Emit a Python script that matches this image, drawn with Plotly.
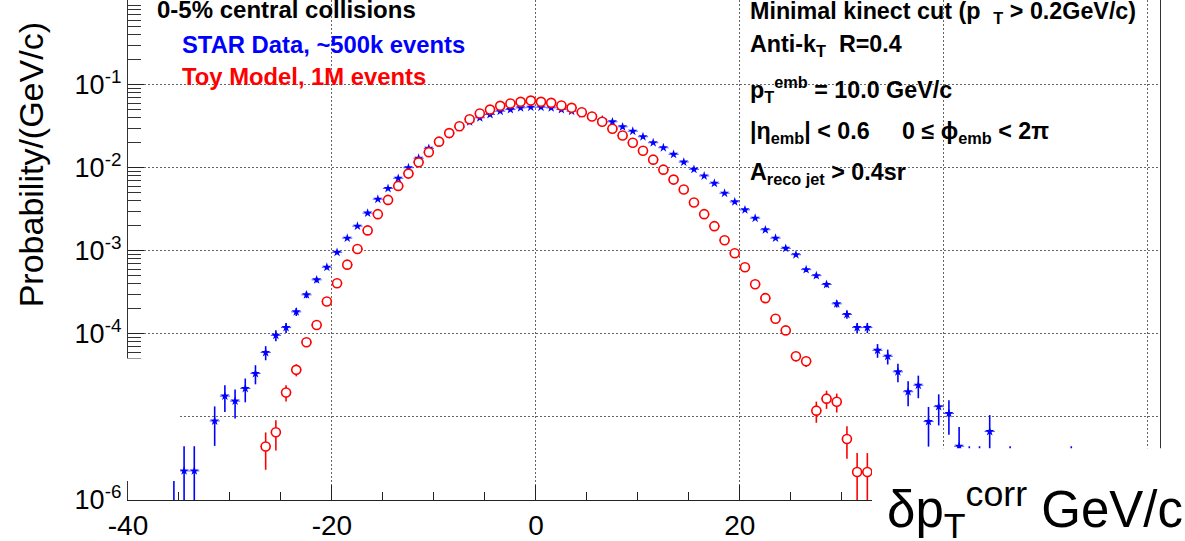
import plotly.graph_objects as go

# ---------------- data ----------------
toy_x = [-26.5, -25.5, -24.5, -23.5, -22.5, -21.5, -20.5, -19.5, -18.5, -17.5,
         -16.5, -15.5, -14.5, -13.5, -12.5, -11.5, -10.5, -9.5, -8.5, -7.5,
         -6.5, -5.5, -4.5, -3.5, -2.5, -1.5, -0.5, 0.5, 1.5, 2.5,
         3.5, 4.5, 5.5, 6.5, 7.5, 8.5, 9.5, 10.5, 11.5, 12.5,
         13.5, 14.5, 15.5, 16.5, 17.5, 18.5, 19.5, 20.5, 21.5, 22.5,
         23.5, 24.5, 25.5, 26.5, 27.5, 28.5, 29.5, 30.5, 31.5, 32.5]
toy_y = [4.41e-6, 6.53e-6, 1.97e-5, 3.69e-5, 7.91e-5, 1.28e-4, 2.45e-4, 4.07e-4, 6.81e-4, 1.05e-3,
         1.76e-3, 2.76e-3, 4.10e-3, 6.04e-3, 8.49e-3, 1.16e-2, 1.54e-2, 2.06e-2, 2.61e-2, 3.16e-2,
         3.84e-2, 4.49e-2, 5.01e-2, 5.56e-2, 5.92e-2, 6.21e-2, 6.43e-2, 6.21e-2, 6.04e-2, 5.60e-2,
         5.26e-2, 4.66e-2, 4.13e-2, 3.57e-2, 2.94e-2, 2.44e-2, 2.00e-2, 1.60e-2, 1.25e-2, 9.48e-3,
         7.19e-3, 5.46e-3, 3.82e-3, 2.76e-3, 1.98e-3, 1.34e-3, 9.33e-4, 6.34e-4, 3.96e-4, 2.69e-4,
         1.52e-4, 1.10e-4, 5.37e-5, 4.68e-5, 1.19e-5, 1.66e-5, 1.52e-5, 5.43e-6, 2.17e-6, 2.17e-6]
toy_err = [2.1e-6, 2.6e-6, 4.4e-6, 6.1e-6, 8.9e-6, 1.1e-5, 1.6e-5, 2.0e-5, 2.6e-5, 3.2e-5,
           4.2e-5, 5.3e-5, 6.4e-5, 7.8e-5, 9.2e-5, 1.1e-4, 1.2e-4, 1.4e-4, 1.6e-4, 1.8e-4,
           2.0e-4, 2.1e-4, 2.2e-4, 2.4e-4, 2.4e-4, 2.5e-4, 2.5e-4, 2.5e-4, 2.5e-4, 2.4e-4,
           2.3e-4, 2.2e-4, 2.0e-4, 1.9e-4, 1.7e-4, 1.6e-4, 1.4e-4, 1.3e-4, 1.1e-4, 9.7e-5,
           8.5e-5, 7.4e-5, 6.2e-5, 5.3e-5, 4.4e-5, 3.7e-5, 3.1e-5, 2.5e-5, 2.0e-5, 1.6e-5,
           1.2e-5, 1.0e-5, 7.3e-6, 6.8e-6, 3.4e-6, 4.1e-6, 3.9e-6, 2.3e-6, 1.5e-6, 1.5e-6]

star_x = [-35.5, -34.5, -33.5, -31.5, -30.5, -29.5, -28.5, -27.5, -26.5, -25.5,
          -24.5, -23.5, -22.5, -21.5, -20.5, -19.5, -18.5, -17.5, -16.5, -15.5,
          -14.5, -13.5, -12.5, -11.5, -10.5, -9.5, -8.5, -7.5, -6.5, -5.5,
          -4.5, -3.5, -2.5, -1.5, -0.5, 0.5, 1.5, 2.5, 3.5, 4.5,
          5.5, 6.5, 7.5, 8.5, 9.5, 10.5, 11.5, 12.5, 13.5, 14.5,
          15.5, 16.5, 17.5, 18.5, 19.5, 20.5, 21.5, 22.5, 23.5, 24.5,
          25.5, 26.5, 27.5, 28.5, 29.5, 30.5, 31.5, 32.5, 33.5, 34.5,
          35.5, 36.5, 37.5, 38.5, 39.5, 40.5, 41.5, 42.5, 43.5, 44.5,
          46.5, 52.5]
star_y = [2.22e-6, 2.24e-6, 2.24e-6, 8.93e-6, 1.78e-5, 1.55e-5, 2.20e-5, 3.33e-5, 5.96e-5, 9.59e-5,
          1.19e-4, 1.84e-4, 2.95e-4, 4.47e-4, 6.34e-4, 9.59e-4, 1.42e-3, 1.98e-3, 2.84e-3, 4.18e-3,
          5.63e-3, 7.46e-3, 1.00e-2, 1.30e-2, 1.71e-2, 2.09e-2, 2.56e-2, 3.03e-2, 3.57e-2, 3.99e-2,
          4.37e-2, 4.79e-2, 5.01e-2, 5.26e-2, 5.35e-2, 5.35e-2, 5.26e-2, 5.01e-2, 4.79e-2, 4.46e-2,
          4.17e-2, 3.80e-2, 3.57e-2, 3.11e-2, 2.75e-2, 2.36e-2, 2.00e-2, 1.74e-2, 1.45e-2, 1.17e-2,
          9.57e-3, 7.96e-3, 6.50e-3, 4.93e-3, 3.88e-3, 3.11e-3, 2.47e-3, 1.79e-3, 1.42e-3, 1.07e-3,
          8.97e-4, 5.93e-4, 5.02e-4, 3.93e-4, 2.30e-4, 1.71e-4, 1.19e-4, 1.19e-4, 6.34e-5, 5.37e-5,
          3.49e-5, 2.01e-5, 2.41e-5, 8.79e-6, 1.33e-5, 1.10e-5, 4.44e-6, 2.22e-6, 2.22e-6, 6.67e-6,
          2.22e-6, 2.22e-6]
star_err = [2.22e-6, 2.2e-6, 2.2e-6, 4.45e-6, 6.3e-6, 5.9e-6, 7.0e-6, 8.6e-6, 1.15e-5, 1.46e-5,
            1.63e-5, 2.0e-5, 2.56e-5, 3.15e-5, 3.75e-5, 4.6e-5, 5.6e-5, 6.6e-5, 7.9e-5, 9.6e-5,
            1.12e-4, 1.29e-4, 1.49e-4, 1.70e-4, 1.95e-4, 2.15e-4, 2.38e-4, 2.59e-4, 2.82e-4, 2.98e-4,
            3.11e-4, 3.26e-4, 3.34e-4, 3.42e-4, 3.45e-4, 3.45e-4, 3.42e-4, 3.34e-4, 3.26e-4, 3.15e-4,
            3.04e-4, 2.90e-4, 2.82e-4, 2.63e-4, 2.47e-4, 2.29e-4, 2.11e-4, 1.97e-4, 1.79e-4, 1.61e-4,
            1.46e-4, 1.33e-4, 1.20e-4, 1.05e-4, 9.3e-5, 8.3e-5, 7.4e-5, 6.3e-5, 5.6e-5, 4.9e-5,
            4.5e-5, 3.6e-5, 3.3e-5, 2.95e-5, 2.26e-5, 1.95e-5, 1.63e-5, 1.63e-5, 1.19e-5, 1.09e-5,
            8.8e-6, 6.7e-6, 7.3e-6, 4.4e-6, 5.4e-6, 4.9e-6, 3.1e-6, 2.22e-6, 2.22e-6, 3.85e-6,
            2.22e-6, 2.22e-6]
bin_half_width = 0.5

x_tick_vals = [-40, -20, 0, 20, 40, 60]
x_tick_text = ["-40", "-20", "0", "20", "", ""]
y_tick_vals = [1e-6, 1e-5, 1e-4, 1e-3, 1e-2, 1e-1]
y_tick_text = ["10<sup>-6</sup>", "", "10<sup>-4</sup>",
               "10<sup>-3</sup>", "10<sup>-2</sup>", "10<sup>-1</sup>"]

# ---------------- layout geometry ----------------
W, H = 1185, 541
L, R, T, B = 128, 25, 0, 39
PW, PH = W - L - R, H - T - B


def px(x):
    return (x - L) / PW


def py(y):
    return (H - B - y) / PH


FONT = "Liberation Sans, Arial, sans-serif"
GRID_DASH = "2px,2px"
GRID_COLOR = "#666"

fig = go.Figure()

fig.add_trace(go.Scatter(
    x=star_x, y=star_y, mode="markers", name="STAR Data",
    marker=dict(symbol="star", size=7, color="#0000ff"),
    error_y=dict(type="data", array=star_err, width=0, thickness=1.6, color="#0000ff"),
    error_x=dict(type="constant", value=bin_half_width, width=0, thickness=1, color="#4d4dff"),
    cliponaxis=True, showlegend=False,
))
fig.add_trace(go.Scatter(
    x=toy_x, y=toy_y, mode="markers", name="Toy Model",
    marker=dict(symbol="circle", size=9, color="white", line=dict(width=1.6, color="#ff0000")),
    error_y=dict(type="data", array=toy_err, width=0, thickness=1.6, color="#ff0000"),
    error_x=dict(type="constant", value=bin_half_width, width=0, thickness=1.3, color="#ff0000"),
    cliponaxis=True, showlegend=False,
))

minor_y = [m * 10 ** e for e in range(-6, 1) for m in range(2, 10)]

fig.update_layout(
    width=W, height=H,
    margin=dict(l=L, r=R, t=T, b=B, pad=0),
    paper_bgcolor="white", plot_bgcolor="white",
    font=dict(family=FONT, color="black"),
    xaxis=dict(
        range=[-40, 61.2], tickmode="array", tickvals=x_tick_vals, ticktext=x_tick_text,
        ticks="inside", ticklen=15, tickwidth=1.3, tickcolor="#222",
        showline=True, linecolor="#222", linewidth=1.3, mirror=False,
        showgrid=True, gridcolor=GRID_COLOR, griddash=GRID_DASH, gridwidth=1,
        zeroline=False, tickfont=dict(size=28, family=FONT),
        minor=dict(tickmode="linear", tick0=0, dtick=5, ticks="inside", ticklen=8,
                   tickcolor="#222", tickwidth=1.3, showgrid=False),
    ),
    yaxis=dict(
        type="log", range=[-6, 0.019], tickmode="array", tickvals=y_tick_vals, ticktext=y_tick_text,
        ticks="inside", ticklen=16, tickwidth=1.2, tickcolor="#222",
        showline=True, linecolor="#333", linewidth=1.3, mirror=True,
        showgrid=True, gridcolor=GRID_COLOR, griddash=GRID_DASH, gridwidth=1,
        zeroline=False, tickfont=dict(size=27, family=FONT),
        minor=dict(tickmode="array", tickvals=minor_y, ticks="inside", ticklen=13,
                   tickcolor="#333", tickwidth=1, showgrid=False),
    ),
)

# white overlays present in the original picture
fig.add_shape(type="rect", xref="paper", yref="paper",
              x0=px(0), x1=px(180), y0=py(483), y1=py(360),
              fillcolor="white", line=dict(width=0), layer="above")
fig.add_shape(type="rect", xref="paper", yref="paper",
              x0=px(872), x1=px(W + 5), y0=py(H + 5), y1=py(450),
              fillcolor="white", line=dict(width=0), layer="above")

NB = "\u00a0"


def note(text, x, y, size=24, color="black", bold=True, xanchor="left"):
    t = f"<b>{text}</b>" if bold else text
    fig.add_annotation(text=t, xref="paper", yref="paper", x=px(x), y=py(y),
                       xanchor=xanchor, yanchor="middle", showarrow=False,
                       font=dict(size=size, color=color, family=FONT))


note("0-5% central collisions", 155, 10)
note("STAR Data, ~500k events", 180, 45, color="#0000ff", size=23.8)
note("Toy Model, 1M events", 180, 77, color="#ff0000", size=23.8)

note(f"Minimal kinect cut (p {NB}<sub>T</sub> > 0.2GeV/c)", 748, 13, size=23.3)
note(f"Anti-k<sub>T</sub>{NB} R=0.4", 748, 46, size=23.3)
note("p<sub>T</sub><sup>emb</sup> = 10.0 GeV/c", 748, 90, size=23.3)
note(f"|η<sub>emb</sub>| < 0.6{NB}{NB}{NB}{NB} 0 ≤ ϕ<sub>emb</sub> < 2π", 748, 133, size=23.3)
note("A<sub>reco jet</sub> > 0.4sr", 748, 174, size=23.3)

# axis titles
fig.add_annotation(text="Probability/(GeV/c)", xref="paper", yref="paper",
                   x=px(31), y=py(166), textangle=-90, showarrow=False,
                   xanchor="center", yanchor="middle",
                   font=dict(size=34, color="black", family=FONT))
fig.add_annotation(text="δp<sub>T</sub><sup>corr</sup> GeV/c", xref="paper", yref="paper",
                   x=px(1185), y=py(512), showarrow=False,
                   xanchor="right", yanchor="middle",
                   font=dict(size=51, color="black", family=FONT))

fig.write_html("out.html")
